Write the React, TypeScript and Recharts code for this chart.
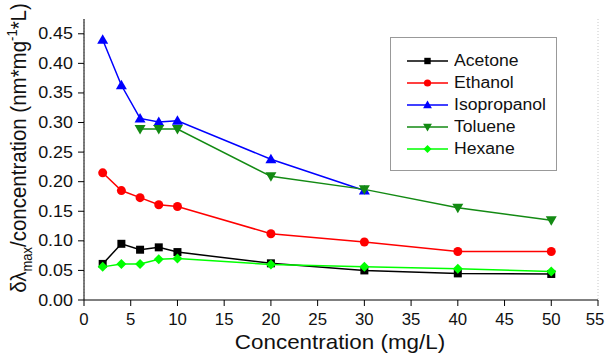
import { LineChart, Line, XAxis, YAxis, CartesianGrid } from 'recharts';

const concAll = [2, 4, 6, 8, 10, 20, 30, 40, 50];
const isoConc = [2, 4, 6, 8, 10, 20, 30];
const tolConc = [6, 8, 10, 20, 30, 40, 50];

const acetone = [0.061, 0.095, 0.085, 0.089, 0.081, 0.062, 0.05, 0.045, 0.044];
const ethanol = [0.215, 0.185, 0.173, 0.161, 0.158, 0.112, 0.098, 0.082, 0.082];
const isopropanol = [0.44, 0.363, 0.307, 0.301, 0.303, 0.238, 0.185];
const toluene = [0.289, 0.289, 0.289, 0.209, 0.187, 0.156, 0.135];
const hexane = [0.056, 0.061, 0.061, 0.069, 0.07, 0.06, 0.056, 0.053, 0.048];

const xTicks = [0, 5, 10, 15, 20, 25, 30, 35, 40, 45, 50, 55];
const xMinor = [2.5, 7.5, 12.5, 17.5, 22.5, 27.5, 32.5, 37.5, 42.5, 47.5, 52.5];
const yTicks = [0, 0.05, 0.1, 0.15, 0.2, 0.25, 0.3, 0.35, 0.4, 0.45];
const yMinor = [0.025, 0.075, 0.125, 0.175, 0.225, 0.275, 0.325, 0.375, 0.425];

const toRows = (xs: number[], ys: number[]) => xs.map((c, i) => ({ c, v: ys[i] }));

const series = [
  { name: 'Acetone', color: '#000000', shape: 'square', data: toRows(concAll, acetone) },
  { name: 'Ethanol', color: '#ff0000', shape: 'circle', data: toRows(concAll, ethanol) },
  { name: 'Isopropanol', color: '#0000ff', shape: 'up', data: toRows(isoConc, isopropanol) },
  { name: 'Toluene', color: '#138a13', shape: 'down', data: toRows(tolConc, toluene) },
  { name: 'Hexane', color: '#00ff00', shape: 'diamond', data: toRows(concAll, hexane) },
];

const FONT = '"Liberation Sans", Arial, sans-serif';
const STRETCH = 1.12; // the source image is a bit wider than tall

function Marker({ cx, cy, shape, color, s = 1 }: any) {
  if (cx == null || cy == null) return null;
  if (shape === 'square') return <rect x={cx - 4 * s} y={cy - 4 * s} width={8 * s} height={8 * s} fill={color} />;
  if (shape === 'circle') return <circle cx={cx} cy={cy} r={4.5 * s} fill={color} />;
  if (shape === 'up')
    return <polygon points={`${cx},${cy - 5.5 * s} ${cx + 5.5 * s},${cy + 4 * s} ${cx - 5.5 * s},${cy + 4 * s}`} fill={color} />;
  if (shape === 'down')
    return <polygon points={`${cx},${cy + 5.5 * s} ${cx + 5.5 * s},${cy - 4 * s} ${cx - 5.5 * s},${cy - 4 * s}`} fill={color} />;
  return <polygon points={`${cx},${cy - 5 * s} ${cx + 5 * s},${cy} ${cx},${cy + 5 * s} ${cx - 5 * s},${cy}`} fill={color} />;
}

function LegendBox() {
  return (
    <div
      style={{
        position: 'absolute',
        left: 390,
        top: 37,
        width: 167,
        height: 134,
        border: '1px solid #999',
        background: '#fff',
        boxSizing: 'border-box',
        paddingTop: 12,
        fontFamily: FONT,
        fontSize: 16,
        lineHeight: '22px',
        color: '#111',
      }}
    >
      {series.map((s) => (
        <div key={s.name} style={{ display: 'flex', alignItems: 'center', height: 22 }}>
          <svg width={63} height={14} style={{ flex: 'none' }}>
            <line x1={16} x2={57} y1={7} y2={7} stroke={s.color} strokeWidth={1.5} />
            <Marker cx={36.5} cy={7} shape={s.shape} color={s.color} s={0.8} />
          </svg>
          <span style={{ display: 'inline-block', transform: 'scaleX(1.1)', transformOrigin: 'left center' }}>
            {s.name}
          </span>
        </div>
      ))}
    </div>
  );
}

const noTick = () => <g />;

function XTick({ x, payload }: any) {
  const last = payload.value === 55;
  return (
    <text
      transform={`translate(${last ? x - 3 : x},325) scale(1.05,1)`}
      textAnchor="middle"
      fontFamily={FONT}
      fontSize={16}
      fill="#111"
    >
      {payload.value}
    </text>
  );
}

function YTick({ y, payload }: any) {
  return (
    <text
      transform={`translate(73,${y + 5.5}) scale(${STRETCH},1)`}
      textAnchor="end"
      fontFamily={FONT}
      fontSize={16}
      fill="#111"
    >
      {Number(payload.value).toFixed(2)}
    </text>
  );
}

export default function App() {
  return (
    <div style={{ position: 'absolute', left: 0, top: 0, width: 605, height: 357, background: '#fff' }}>
      <LineChart width={605} height={357} margin={{ top: 19, right: 7, bottom: 0, left: 0 }}>
        <CartesianGrid horizontal={false} stroke="#c8c8c8" strokeDasharray="1 2" />
        <XAxis
          xAxisId="main"
          type="number"
          dataKey="c"
          domain={[0, 55]}
          ticks={xTicks}
          interval={0}
          height={57}
          allowDuplicatedCategory={false}
          stroke="#000"
          tickSize={6}
          tick={<XTick />}
          label={{
            content: () => (
              <text
                transform={`translate(340,349) scale(${STRETCH},1)`}
                textAnchor="middle"
                fontFamily={FONT}
                fontSize={20}
                fill="#111"
              >
                Concentration (mg/L)
              </text>
            ),
          }}
        />
        <XAxis xAxisId="minor" type="number" dataKey="c" domain={[0, 55]} ticks={xMinor} interval={0} height={0} axisLine={false} stroke="#000" tickSize={3} tick={noTick} />
        <XAxis xAxisId="top" orientation="top" type="number" dataKey="c" domain={[0, 55]} ticks={[]} height={0} stroke="#000" tick={noTick} />
        <YAxis
          yAxisId="main"
          type="number"
          domain={[0, 0.475]}
          ticks={yTicks}
          interval={0}
          width={84}
          stroke="#000"
          tickSize={6}
          tick={<YTick />}
          label={{
            content: () => (
              <text
                transform={`translate(26,148) scale(${STRETCH},1) rotate(-90)`}
                textAnchor="middle"
                fontFamily={FONT}
                fontSize={20.5}
                fill="#111"
              >
                <tspan>δλ</tspan>
                <tspan fontSize={13} dy={5}>max</tspan>
                <tspan dy={-5}>/concentration (nm*mg</tspan>
                <tspan fontSize={13} dy={-8}>-1</tspan>
                <tspan dy={8}>*L)</tspan>
              </text>
            ),
          }}
        />
        <YAxis yAxisId="minor" type="number" domain={[0, 0.475]} ticks={yMinor} interval={0} width={0} axisLine={false} stroke="#000" tickSize={3} tick={noTick} />
        <YAxis yAxisId="right" orientation="right" mirror type="number" domain={[0, 0.475]} ticks={yTicks} interval={0} width={0} stroke="#000" tickSize={5} tick={noTick} />
        <YAxis yAxisId="rightMinor" orientation="right" mirror type="number" domain={[0, 0.475]} ticks={yMinor} interval={0} width={0} axisLine={false} stroke="#000" tickSize={3} tick={noTick} />
        {series.map((s) => (
          <Line
            key={s.name}
            xAxisId="main"
            yAxisId="main"
            data={s.data}
            dataKey="v"
            name={s.name}
            stroke={s.color}
            strokeWidth={1.5}
            type="linear"
            isAnimationActive={false}
            dot={(p: any) => <Marker key={`${s.name}-${p.index}`} cx={p.cx} cy={p.cy} shape={s.shape} color={s.color} />}
            activeDot={false}
          />
        ))}
      </LineChart>
      <LegendBox />
    </div>
  );
}
